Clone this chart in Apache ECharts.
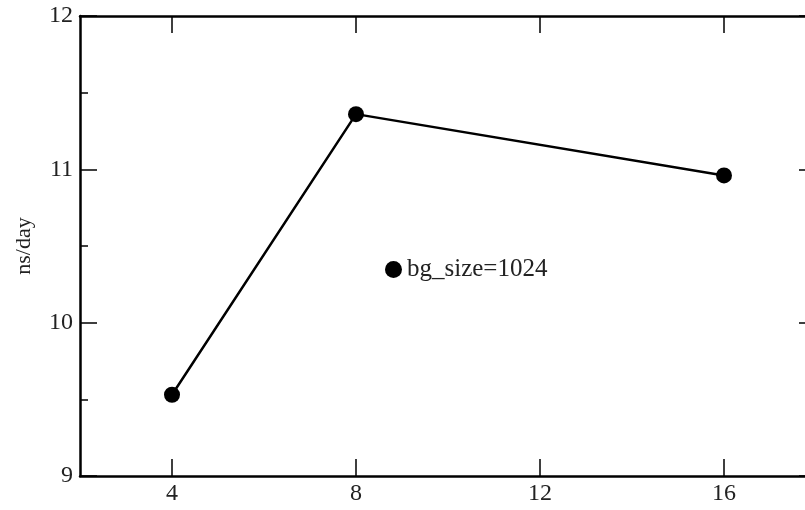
<!DOCTYPE html>
<html><head><meta charset="utf-8">
<script src="https://cdn.jsdelivr.net/npm/echarts@6/dist/echarts.min.js"></script>
<style>html,body{margin:0;padding:0;background:#fff;overflow:hidden;width:805px;height:510px}#c{width:830px;height:510px}</style>
</head><body><div id="c"></div>
<script>
const xValues = [4, 8, 16];
const nsPerDay = [9.53, 11.36, 10.96];
const xTicks = [4, 8, 12, 16];
const seriesName = 'bg_size=1024';

const data = xValues.map((x, i) => [x, nsPerDay[i]]);
const font = 'Liberation Serif';
const axisLine = {show: true, lineStyle: {color: '#000', width: 2.5}};
const chart = echarts.init(document.getElementById('c'));
chart.setOption({
  animation: false,
  backgroundColor: '#fff',
  grid: {left: 80, top: 16, right: 14, bottom: 34, containLabel: false},
  legend: {
    left: 380, top: 252, icon: 'circle', itemWidth: 17, itemHeight: 17, itemGap: 10,
    textStyle: {fontFamily: font, fontSize: 25, color: '#222'},
    data: [seriesName]
  },
  xAxis: [{
    type: 'value', min: 2, max: 18, position: 'bottom',
    axisLine, splitLine: {show: false},
    axisTick: {show: true, inside: true, length: 17, customValues: xTicks, lineStyle: {color: '#000', width: 1.5}},
    axisLabel: {customValues: xTicks, fontFamily: font, fontSize: 24, color: '#222', margin: 6}
  }, {
    type: 'value', min: 2, max: 18, position: 'top',
    axisLine, splitLine: {show: false},
    axisTick: {show: true, inside: true, length: 17, customValues: xTicks, lineStyle: {color: '#000', width: 1.5}},
    axisLabel: {show: false}
  }],
  yAxis: [{
    type: 'value', min: 9, max: 12, interval: 1, position: 'left',
    name: 'ns/day', nameLocation: 'middle', nameGap: 45, nameRotate: 90,
    nameTextStyle: {fontFamily: font, fontSize: 22, color: '#222'},
    axisLine, splitLine: {show: false},
    axisTick: {show: true, inside: true, length: 17, lineStyle: {color: '#000', width: 1.5}},
    minorTick: {show: true, splitNumber: 2, length: 8, lineStyle: {color: '#000', width: 1.5}},
    axisLabel: {fontFamily: font, fontSize: 24, color: '#222', margin: 7}
  }, {
    type: 'value', min: 9, max: 12, interval: 1, position: 'right',
    axisLine, splitLine: {show: false},
    axisTick: {show: true, inside: true, length: 17, lineStyle: {color: '#000', width: 1.5}},
    minorTick: {show: true, splitNumber: 2, length: 8, lineStyle: {color: '#000', width: 1.5}},
    axisLabel: {show: false}
  }],
  series: [{
    name: seriesName, type: 'line', data,
    symbol: 'circle', symbolSize: 16,
    lineStyle: {color: '#000', width: 2.5},
    itemStyle: {color: '#000'}
  }]
});
</script></body></html>
